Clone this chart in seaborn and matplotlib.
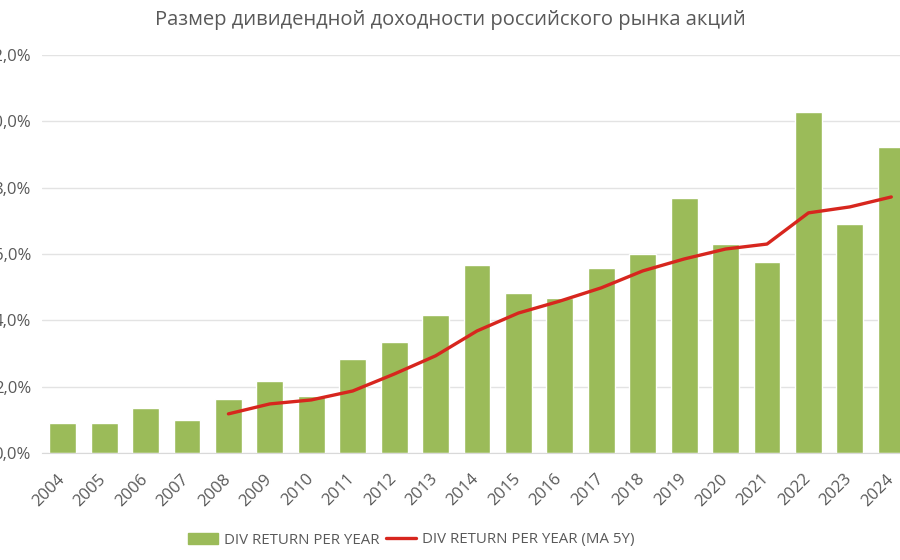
import numpy as np
import pandas as pd
import seaborn as sns
import matplotlib.pyplot as plt
import matplotlib.transforms as mtransforms
from matplotlib.ticker import FuncFormatter, FixedLocator
from matplotlib.patches import Patch
from matplotlib.lines import Line2D

years = [str(y) for y in range(2004, 2025)]
div_return = [0.90, 0.90, 1.36, 1.00, 1.63, 2.17, 1.72, 2.84, 3.35, 4.16, 5.67,
              4.83, 4.68, 5.58, 6.00, 7.69, 6.30, 5.76, 10.29, 6.90, 9.23]
ma_years = years[4:]
ma_5y = [1.18, 1.48, 1.60, 1.87, 2.38, 2.93, 3.68, 4.22, 4.58, 4.98, 5.49,
         5.85, 6.15, 6.30, 7.24, 7.42, 7.72]

title = "Размер дивидендной доходности российского рынка акций"
bar_label = "DIV RETURN PER YEAR"
line_label = "DIV RETURN PER YEAR (MA 5Y)"

sns.set_style("white")
plt.rcParams['font.family'] = ['Open Sans', 'DejaVu Sans']
grey = '#595959'

fig = plt.figure(figsize=(9, 5.6), dpi=100)
ax = fig.add_axes([42 / 900, 1 - 453 / 560, 870 / 900, 398 / 560])

sns.barplot(x=years, y=div_return, color='#9BBB59', saturation=1, width=0.65, ax=ax)
sns.lineplot(x=ma_years, y=ma_5y, color='#D7261E', linewidth=2.4, ax=ax)

ax.set_ylim(0, 12)
ax.set_xlim(-0.5, len(years) - 0.5)
ax.set_yticks(np.arange(0, 12.1, 2))
ax.yaxis.set_major_formatter(FuncFormatter(lambda v, p: f"{v:.1f}%".replace('.', ',')))
ax.grid(axis='y', color='#e3e3e3', linewidth=1)
ax.set_axisbelow(True)
for s in ['top', 'right', 'left']:
    ax.spines[s].set_visible(False)
ax.spines['bottom'].set_color('#d9d9d9')
ax.tick_params(axis='y', length=0, labelsize=12, labelcolor=grey, pad=8)
ax.tick_params(axis='x', which='major', length=0, labelsize=12, labelcolor=grey, pad=13)
shift = mtransforms.ScaledTranslation(-6 / 100, 0, fig.dpi_scale_trans)
for lab in ax.get_xticklabels():
    lab.set_rotation(45)
    lab.set_ha('right')
    lab.set_rotation_mode('anchor')
    lab.set_transform(lab.get_transform() + shift)
ax.xaxis.set_minor_locator(FixedLocator(np.arange(-0.5, len(years), 1)))
ax.tick_params(axis='x', which='minor', length=5, color='#d9d9d9')
ax.set_xlabel('')
ax.set_ylabel('')

fig.text(0.5, 1 - 20 / 560, title, ha='center', va='center', fontsize=14.5, color=grey)

handles = [Patch(color='#9BBB59'), Line2D([0], [0], color='#D7261E', linewidth=2.4)]
fig.legend(handles, [bar_label, line_label], loc='center', bbox_to_anchor=(411 / 900, 1 - 540 / 560),
           ncol=2, frameon=False, fontsize=10.8, labelcolor=grey, handlelength=2.0,
           handletextpad=0.4, columnspacing=0.4)

fig.savefig('out.png', dpi=100)
